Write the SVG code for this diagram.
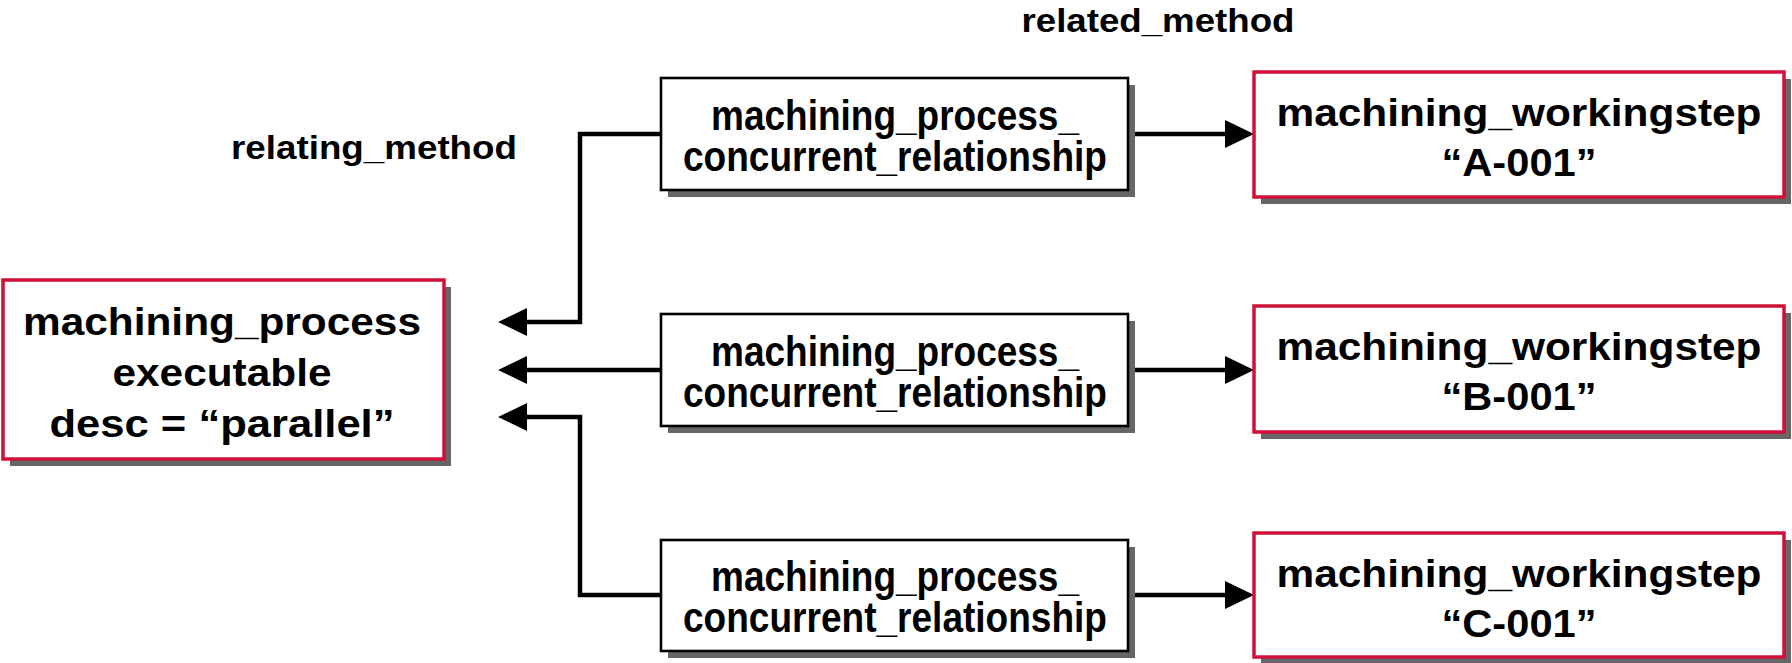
<svg xmlns="http://www.w3.org/2000/svg" width="1792" height="663" viewBox="0 0 1792 663">
  <style>
    text { font-family: "Liberation Sans", Arial, Helvetica, sans-serif; font-weight: bold; fill: #000; text-anchor: middle; }
    .big { font-size: 39px; }
    .mid { font-size: 42px; }
    .lbl { font-size: 33px; }
    .shadow { fill: #666; }
    .entity { fill: #fff; stroke: #D0103A; stroke-width: 3.5; }
    .rel { fill: #fff; stroke: #000; stroke-width: 2.6; }
    .wire { fill: none; stroke: #000; stroke-width: 4.5; stroke-linejoin: miter; }
  </style>
  <defs>
    <marker id="arrow" viewBox="0 0 29 28" refX="19" refY="14" markerWidth="29" markerHeight="28" markerUnits="userSpaceOnUse" orient="auto">
      <path d="M0,0 L29,14 L0,28 Z" fill="#000"/>
    </marker>
  </defs>

  <rect width="1792" height="663" fill="#fff"/>

  <!-- attribute labels -->
  <text class="lbl" x="1158" y="32" textLength="273" lengthAdjust="spacingAndGlyphs">related_method</text>
  <text class="lbl" x="374" y="159" textLength="286" lengthAdjust="spacingAndGlyphs">relating_method</text>

  <!-- connectors -->
  <g id="connectors">
    <path class="wire" d="M660,134 H580 V322 H508" marker-end="url(#arrow)"/>
    <path class="wire" d="M660,370 H508" marker-end="url(#arrow)"/>
    <path class="wire" d="M660,595 H580 V417 H508" marker-end="url(#arrow)"/>
    <path class="wire" d="M1128,134 H1244" marker-end="url(#arrow)"/>
    <path class="wire" d="M1128,370 H1244" marker-end="url(#arrow)"/>
    <path class="wire" d="M1128,595 H1244" marker-end="url(#arrow)"/>
  </g>

  <!-- executable process -->
  <g id="machining_process">
    <rect class="shadow" x="10" y="287" width="441" height="179"/>
    <rect class="entity" x="3" y="280" width="441" height="179"/>
    <text class="big" x="222" y="335" textLength="398" lengthAdjust="spacingAndGlyphs">machining_process</text>
    <text class="big" x="222" y="386" textLength="219" lengthAdjust="spacingAndGlyphs">executable</text>
    <text class="big" x="222" y="437" textLength="345" lengthAdjust="spacingAndGlyphs">desc = “parallel”</text>
  </g>

  <!-- concurrent relationships -->
  <g id="relationship_a">
    <rect class="shadow" x="668" y="85" width="467" height="112"/>
    <rect class="rel" x="661" y="78" width="467" height="112"/>
    <text class="mid" x="895" y="130" textLength="368" lengthAdjust="spacingAndGlyphs">machining_process_</text>
    <text class="mid" x="895" y="171" textLength="424" lengthAdjust="spacingAndGlyphs">concurrent_relationship</text>
  </g>
  <g id="relationship_b">
    <rect class="shadow" x="668" y="321" width="467" height="112"/>
    <rect class="rel" x="661" y="314" width="467" height="112"/>
    <text class="mid" x="895" y="366" textLength="368" lengthAdjust="spacingAndGlyphs">machining_process_</text>
    <text class="mid" x="895" y="407" textLength="424" lengthAdjust="spacingAndGlyphs">concurrent_relationship</text>
  </g>
  <g id="relationship_c">
    <rect class="shadow" x="668" y="547" width="467" height="111"/>
    <rect class="rel" x="661" y="540" width="467" height="111"/>
    <text class="mid" x="895" y="591" textLength="368" lengthAdjust="spacingAndGlyphs">machining_process_</text>
    <text class="mid" x="895" y="632" textLength="424" lengthAdjust="spacingAndGlyphs">concurrent_relationship</text>
  </g>

  <!-- workingsteps -->
  <g id="workingstep_a">
    <rect class="shadow" x="1261" y="79" width="530" height="125"/>
    <rect class="entity" x="1254" y="72" width="530" height="125"/>
    <text class="big" x="1519" y="126" textLength="485" lengthAdjust="spacingAndGlyphs">machining_workingstep</text>
    <text class="big" x="1519" y="176" textLength="155" lengthAdjust="spacingAndGlyphs">“A-001”</text>
  </g>
  <g id="workingstep_b">
    <rect class="shadow" x="1261" y="313" width="530" height="126"/>
    <rect class="entity" x="1254" y="306" width="530" height="126"/>
    <text class="big" x="1519" y="360" textLength="485" lengthAdjust="spacingAndGlyphs">machining_workingstep</text>
    <text class="big" x="1519" y="410" textLength="155" lengthAdjust="spacingAndGlyphs">“B-001”</text>
  </g>
  <g id="workingstep_c">
    <rect class="shadow" x="1261" y="540" width="530" height="124"/>
    <rect class="entity" x="1254" y="533" width="530" height="124"/>
    <text class="big" x="1519" y="587" textLength="485" lengthAdjust="spacingAndGlyphs">machining_workingstep</text>
    <text class="big" x="1519" y="637" textLength="155" lengthAdjust="spacingAndGlyphs">“C-001”</text>
  </g>
</svg>
